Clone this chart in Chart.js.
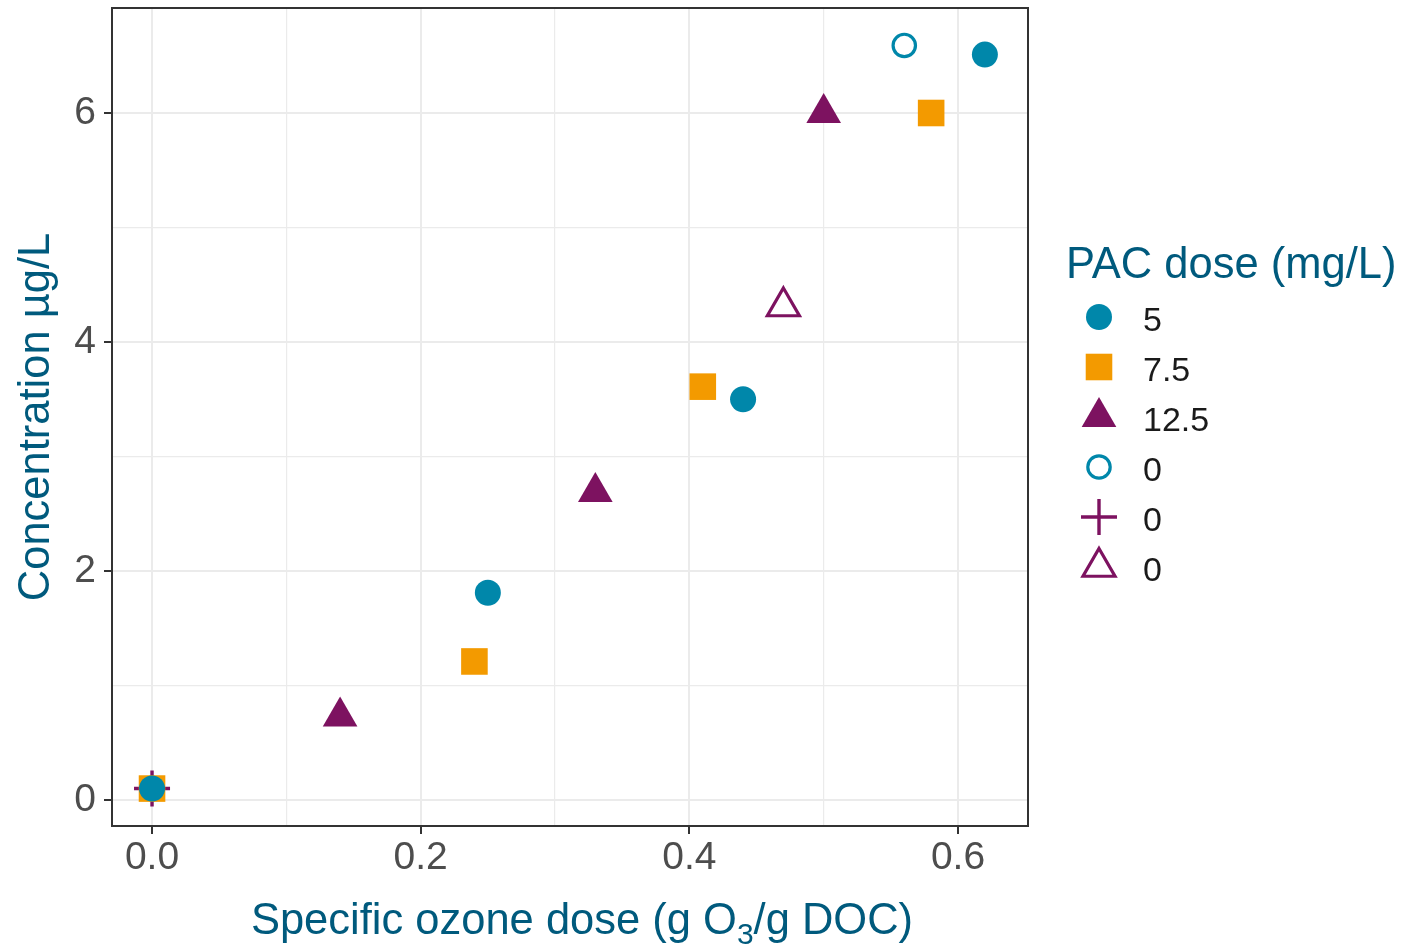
<!DOCTYPE html>
<html><head><meta charset="utf-8">
<script src="https://cdn.jsdelivr.net/npm/chart.js@4.4.1/dist/chart.umd.min.js"></script>
<style>html,body{margin:0;padding:0;background:#fff;}canvas{display:block;}</style>
</head><body>
<canvas id="c" width="1402" height="946"></canvas>
<script>
// ---- data ----
const legendTitle = 'PAC dose (mg/L)';
const seriesNames = ['5', '7.5', '12.5', '0', '0', '0'];
const pac5X = [0, 0.25, 0.44, 0.62];
const pac5Y = [0.1, 1.81, 3.5, 6.51];
const pac75X = [0, 0.24, 0.41, 0.58];
const pac75Y = [0.1, 1.21, 3.61, 6.0];
const pac125X = [0.14, 0.33, 0.5];
const pac125Y = [0.73, 2.69, 6.0];
const openCircleX = [0.56];
const openCircleY = [6.59];
const plusX = [0];
const plusY = [0.1];
const openTriX = [0.47];
const openTriY = [4.31];
const xTickValues = [0, 0.1, 0.2, 0.3, 0.4, 0.5, 0.6];
const xTickLabels = ['0.0', '', '0.2', '', '0.4', '', '0.6'];
const yTickValues = [0, 1, 2, 3, 4, 5, 6];
const yTickLabels = ['0', '', '2', '', '4', '', '6'];
const xTitleParts = ['Specific ozone dose (g O', '3', '/g DOC)'];
const yTitle = 'Concentration \u00b5g/L';

// ---- style ----
const TEAL = '#0087AA', ORANGE = '#F39A00', PURPLE = '#7D1260';
const TITLE_COL = '#005A7D', TICK_COL = '#4D4D4D';
const FONT = "'Liberation Sans', Arial, sans-serif";
const TITLE_SIZE = 43.5, TICK_SIZE = 39;

const pts = (xs, ys) => xs.map((x, i) => ({x, y: ys[i]}));
const styles = [
  {pointStyle: 'circle', radius: 13, bg: TEAL, border: TEAL, bw: 0},
  {pointStyle: 'rect', radius: 18.8, bg: ORANGE, border: ORANGE, bw: 0},
  {pointStyle: 'triangle', radius: 20, bg: PURPLE, border: PURPLE, bw: 0},
  {pointStyle: 'circle', radius: 11.2, bg: 'rgba(0,0,0,0)', border: TEAL, bw: 3.2},
  {pointStyle: 'cross', radius: 18, bg: 'rgba(0,0,0,0)', border: PURPLE, bw: 3.4},
  {pointStyle: 'triangle', radius: 18.5, bg: 'rgba(0,0,0,0)', border: PURPLE, bw: 3.2}
];
const seriesData = [
  pts(pac5X, pac5Y), pts(pac75X, pac75Y), pts(pac125X, pac125Y),
  pts(openCircleX, openCircleY), pts(plusX, plusY), pts(openTriX, openTriY)
];

const datasets = seriesData.map((d, i) => ({
  label: seriesNames[i],
  data: d,
  pointStyle: styles[i].pointStyle,
  pointRadius: styles[i].radius,
  pointHoverRadius: styles[i].radius,
  backgroundColor: styles[i].bg,
  borderColor: styles[i].border,
  pointBorderWidth: styles[i].bw,
  borderWidth: styles[i].bw,
  showLine: false
}));

const framePlugin = {
  id: 'frame',
  afterDatasetsDraw(chart) {
    const {ctx, chartArea: a} = chart;
    ctx.save();
    ctx.strokeStyle = '#333333';
    ctx.lineWidth = 2;
    ctx.strokeRect(a.left, a.top, a.right - a.left, a.bottom - a.top);
    ctx.restore();
  },
  afterDraw(chart) {
    const {ctx, chartArea: a} = chart;
    ctx.save();
    // x-axis title with subscript
    const big = TITLE_SIZE + 'px ' + FONT, small = '30px ' + FONT;
    ctx.font = big;
    const w0 = ctx.measureText(xTitleParts[0]).width;
    const w2 = ctx.measureText(xTitleParts[2]).width;
    ctx.font = small;
    const w1 = ctx.measureText(xTitleParts[1]).width;
    const total = w0 + w1 + w2;
    let x = (a.left + a.right) / 2 + 12 - total / 2;
    const base = 934;
    ctx.fillStyle = TITLE_COL;
    ctx.textBaseline = 'alphabetic';
    ctx.textAlign = 'left';
    ctx.font = big; ctx.fillText(xTitleParts[0], x, base); x += w0;
    ctx.font = small; ctx.fillText(xTitleParts[1], x, base + 10); x += w1;
    ctx.font = big; ctx.fillText(xTitleParts[2], x, base);

    // legend
    ctx.font = TITLE_SIZE + 'px ' + FONT;
    ctx.fillStyle = TITLE_COL;
    ctx.fillText(legendTitle, 1066, 278);
    const keyX = 1099, labelX = 1143, row0 = 317, rowH = 50;
    styles.forEach((s, i) => {
      const y = row0 + i * rowH;
      ctx.save();
      ctx.fillStyle = s.bg;
      ctx.strokeStyle = s.border;
      ctx.lineWidth = s.bw;
      Chart.helpers.drawPoint(ctx, {pointStyle: s.pointStyle, radius: s.radius, rotation: 0, borderWidth: s.bw}, keyX, y);
      ctx.restore();
      ctx.font = '34px ' + FONT;
      ctx.fillStyle = '#1A1A1A';
      ctx.textBaseline = 'middle';
      ctx.fillText(seriesNames[i], labelX, y + 5);
    });
    ctx.restore();
  }
};

new Chart(document.getElementById('c'), {
  type: 'scatter',
  data: {datasets},
  plugins: [framePlugin],
  options: {
    responsive: false,
    animation: false,
    devicePixelRatio: 1,
    layout: {autoPadding: false, padding: {left: 0, top: 8, right: 374, bottom: 0}},
    plugins: {legend: {display: false}, tooltip: {enabled: false}},
    scales: {
      x: {
        type: 'linear',
        min: -0.0298, max: 0.6521,
        afterBuildTicks: s => { s.ticks = xTickValues.map(v => ({value: v})); },
        afterFit: s => { s.height = 120; s.paddingLeft = 0; s.paddingRight = 0; },
        border: {display: false},
        grid: {
          color: '#EBEBEB',
          lineWidth: c => (c.index % 2 === 0 ? 2 : 1.2),
          tickColor: c => (c.index % 2 === 0 ? '#333333' : 'rgba(0,0,0,0)'),
          tickLength: 8, tickWidth: 2
        },
        ticks: {
          autoSkip: false, maxRotation: 0,
          callback: (v, i) => xTickLabels[i],
          color: TICK_COL, padding: 1,
          font: {family: FONT, size: TICK_SIZE}
        },
        title: {display: false}
      },
      y: {
        type: 'linear',
        min: -0.227, max: 6.917,
        afterBuildTicks: s => { s.ticks = yTickValues.map(v => ({value: v})); },
        afterFit: s => { s.width = 112; s.paddingTop = 0; s.paddingBottom = 0; },
        border: {display: false},
        grid: {
          color: '#EBEBEB',
          lineWidth: c => (c.index % 2 === 0 ? 2 : 1.2),
          tickColor: c => (c.index % 2 === 0 ? '#333333' : 'rgba(0,0,0,0)'),
          tickLength: 8, tickWidth: 2
        },
        ticks: {
          autoSkip: false,
          callback: (v, i) => yTickLabels[i],
          color: TICK_COL, padding: 8,
          font: {family: FONT, size: TICK_SIZE}
        },
        title: {
          display: true, text: yTitle, color: TITLE_COL,
          font: {family: FONT, size: TITLE_SIZE}, padding: {top: 11, bottom: 0}
        }
      }
    }
  }
});
</script>
</body></html>
